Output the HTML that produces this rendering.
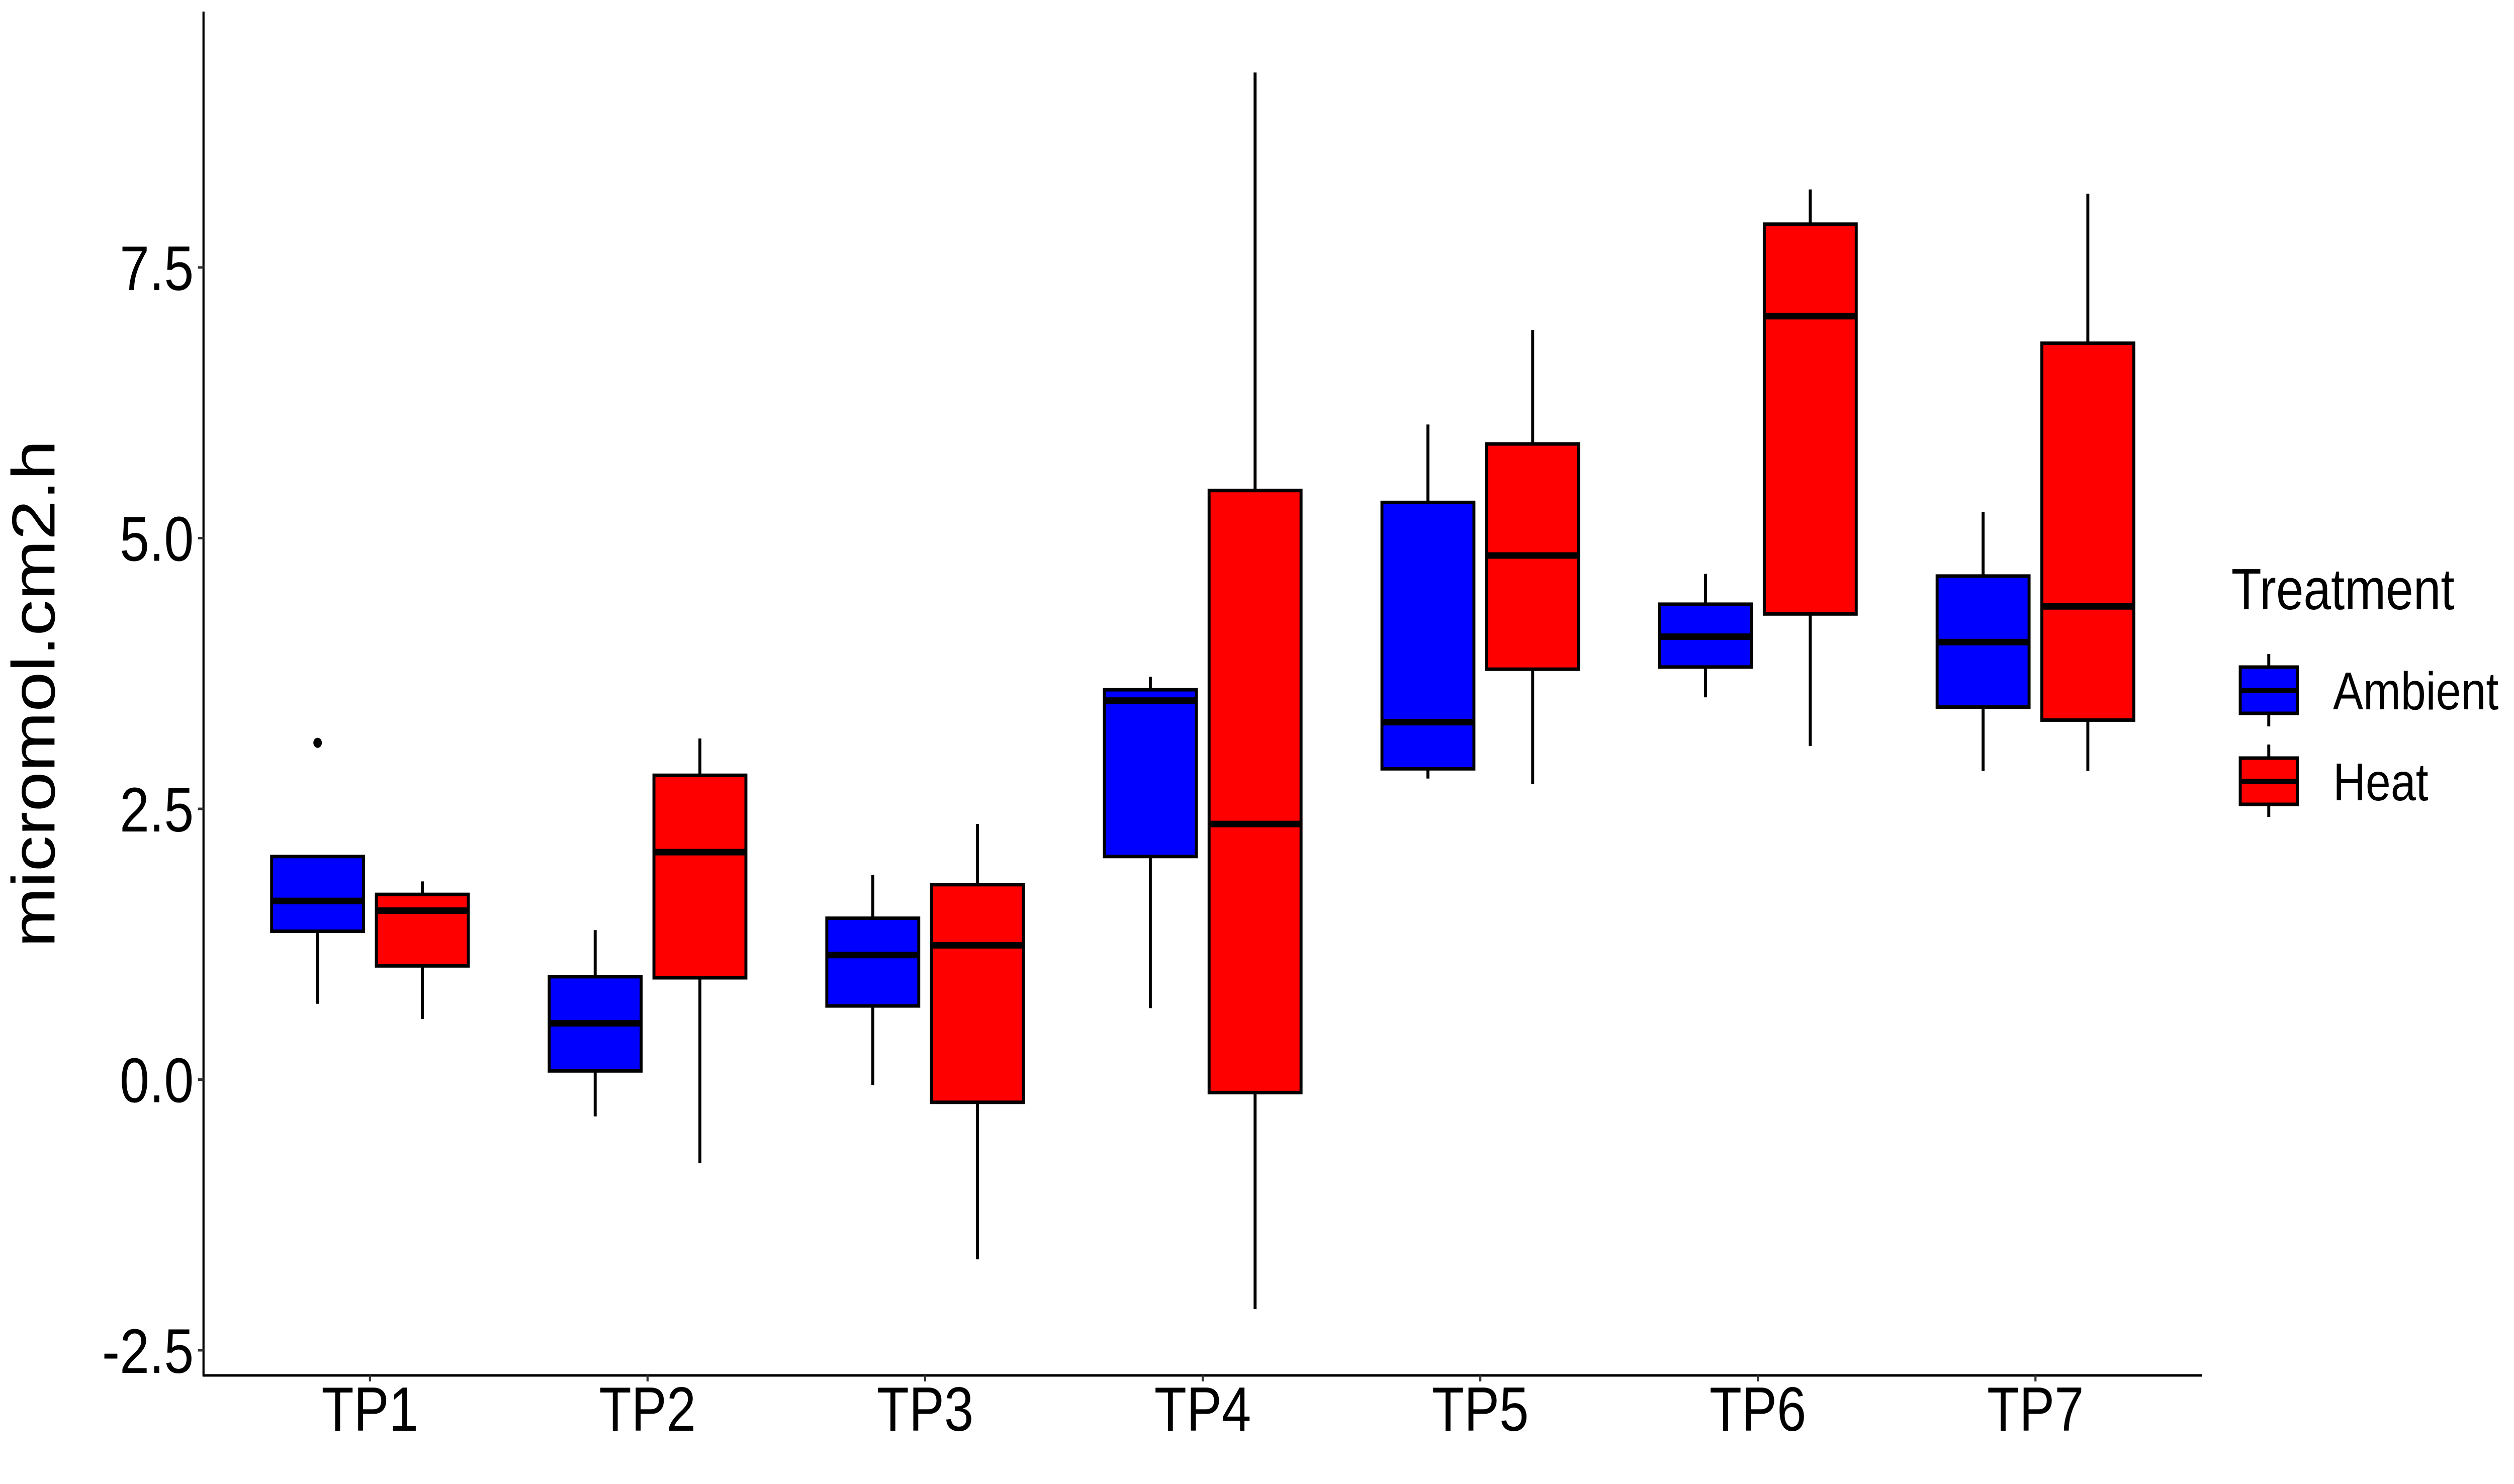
<!DOCTYPE html>
<html><head><meta charset="utf-8"><style>
html,body{margin:0;padding:0;background:#fff;width:100%;height:100%;overflow:hidden;}
svg{display:block;width:100vw;height:100vh;font-family:"Liberation Sans",Arial,sans-serif;}
</style></head><body>
<svg id="chart" viewBox="0 0 5905 2952" preserveAspectRatio="none" xmlns="http://www.w3.org/2000/svg">
<rect width="5905" height="2952" fill="#fff"/>
<g id="plot"></g>
<line x1="478" y1="23" x2="478" y2="2738" stroke="#000" stroke-width="5"/>
<line x1="476" y1="2736" x2="5172" y2="2736" stroke="#000" stroke-width="5"/>
<g id="yticks"></g>
<g id="xticks"></g>
<text transform="translate(128,1380) rotate(-90)" text-anchor="middle" font-size="143" fill="#000">micromol.cm2.h</text>
<g>
<text x="5241" y="1212" font-size="116" fill="#000">Treatment</text>
<g>
<line x1="5329" y1="1301" x2="5329" y2="1445" stroke="#000" stroke-width="7"/>
<rect x="5262" y="1327" width="134" height="92" fill="#0000ff" stroke="#000" stroke-width="7"/>
<line x1="5262" y1="1374" x2="5396" y2="1374" stroke="#000" stroke-width="10"/>
<text x="5480" y="1411" font-size="106" fill="#000">Ambient</text>
</g>
<g>
<line x1="5329" y1="1481" x2="5329" y2="1625" stroke="#000" stroke-width="7"/>
<rect x="5262" y="1508" width="134" height="92" fill="#ff0000" stroke="#000" stroke-width="7"/>
<line x1="5262" y1="1554" x2="5396" y2="1554" stroke="#000" stroke-width="10"/>
<text x="5480" y="1592" font-size="106" fill="#000">Heat</text>
</g>
</g>
</svg>
<script>
const categories = ["TP1","TP2","TP3","TP4","TP5","TP6","TP7"];
const yTicks = [-2.5, 0, 2.5, 5, 7.5];
const yTickLabels = ["-2.5","0.0","2.5","5.0","7.5"];
// Ambient: [low whisker, Q1, median, Q3, high whisker]
const ambLow = [0.70, -0.34, -0.05, 0.66, 2.78, 3.53, 2.85];
const ambQ1 = [1.37, 0.08, 0.68, 2.06, 2.87, 3.81, 3.44];
const ambMed = [1.65, 0.52, 1.15, 3.50, 3.30, 4.09, 4.04];
const ambQ3 = [2.06, 0.95, 1.49, 3.60, 5.33, 4.39, 4.65];
const ambHigh = [2.06, 1.38, 1.89, 3.72, 6.05, 4.67, 5.24];
const heatLow = [0.56, -0.77, -1.66, -2.12, 2.73, 3.08, 2.85];
const heatQ1 = [1.05, 0.94, -0.21, -0.12, 3.79, 4.30, 3.32];
const heatMed = [1.56, 2.10, 1.24, 2.36, 4.84, 7.05, 4.37];
const heatQ3 = [1.71, 2.81, 1.80, 5.44, 5.87, 7.90, 6.80];
const heatHigh = [1.83, 3.15, 2.36, 9.30, 6.92, 8.22, 8.18];
const outlierCat = [0];
const outlierVal = [3.11];

const NS = "http://www.w3.org/2000/svg";
function yScale(v){ return 2147.5 - 215.4 * v; }
function xScale(i){ return 869 + 652 * i; }
const dodge = 123, boxW = 216;
function mk(tag, attrs, parent){
  const e = document.createElementNS(NS, tag);
  for (const k in attrs) e.setAttribute(k, attrs[k]);
  parent.appendChild(e);
  return e;
}
const plot = document.getElementById('plot');
function drawBox(i, cx, low, q1, med, q3, high, fill, name){
  const g = mk('g', {}, plot);
  
  
  const w1 = mk('line', {x1:cx, x2:cx, y1:yScale(high), y2:yScale(q3), stroke:'#000','stroke-width':7}, g);
  
  
  const w2 = mk('line', {x1:cx, x2:cx, y1:yScale(q1), y2:yScale(low), stroke:'#000','stroke-width':7}, g);
  
  
  const r = mk('rect', {x:cx-boxW/2, y:yScale(q3), width:boxW, height:yScale(q1)-yScale(q3), fill:fill, stroke:'#000','stroke-width':7}, g);
  
  
  const m = mk('line', {x1:cx-boxW/2, x2:cx+boxW/2, y1:yScale(med), y2:yScale(med), stroke:'#000','stroke-width':13}, g);
  
  
}
categories.forEach((c, i) => {
  const cx = xScale(i);
  drawBox(i, cx - dodge, ambLow[i], ambQ1[i], ambMed[i], ambQ3[i], ambHigh[i], '#0000ff', 'box-ambient-' + c.toLowerCase());
  drawBox(i, cx + dodge, heatLow[i], heatQ1[i], heatMed[i], heatQ3[i], heatHigh[i], '#ff0000', 'box-heat-' + c.toLowerCase());
});
outlierCat.forEach((ci, k) => {
  const o = mk('circle', {cx: xScale(ci) - dodge, cy: yScale(outlierVal[k]), r: 10, fill:'#000'}, plot);
  
  
});
const yt = document.getElementById('yticks');
yTicks.forEach((v, k) => {
  const y = yScale(v);
  const l = mk('line', {x1:465, x2:478, y1:y, y2:y, stroke:'#333','stroke-width':5}, yt);
  
  
  const t = mk('text', {x:455, y:y+45, 'text-anchor':'end', 'font-size':125, fill:'#000'}, yt);
  
  
  t.textContent = yTickLabels[k];
});
const xt = document.getElementById('xticks');
categories.forEach((c, i) => {
  const x = xScale(i);
  const l = mk('line', {x1:x, x2:x, y1:2736, y2:2748, stroke:'#333','stroke-width':5}, xt);
  
  
  const t = mk('text', {x:x, y:2846, 'text-anchor':'middle', 'font-size':124, fill:'#000'}, xt);
  
  
  t.textContent = c;
});
</script>
</body></html>
